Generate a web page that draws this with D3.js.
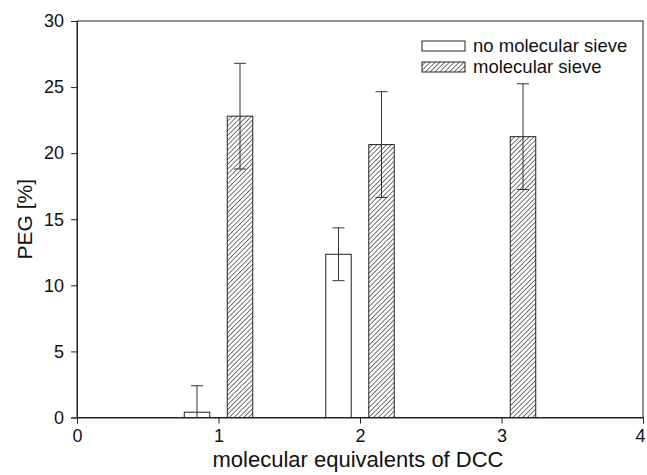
<!DOCTYPE html>
<html>
<head>
<meta charset="utf-8">
<script src="https://cdn.jsdelivr.net/npm/d3@7"></script>
<style>
  body { margin: 0; background: white; }
  text { font-family: "Liberation Sans", Arial, sans-serif; fill: #111; }
</style>
</head>
<body>
<svg id="chart" width="647" height="475"></svg>
<script>
// data
const equivalents = [1, 2, 3];
const noSieve = [0.4, 12.35, null];
const noSieveErr = [2.0, 2.0, null];
const sieve = [22.8, 20.65, 21.25];
const sieveErr = [4.0, 4.0, 4.0];
const xTicks = [0, 1, 2, 3, 4];
const yTicks = [0, 5, 10, 15, 20, 25, 30];
const seriesNames = ['no molecular sieve', 'molecular sieve'];

const margin = { top: 21, right: 4, bottom: 57.5, left: 77 };
const width = 647 - margin.left - margin.right;
const height = 475 - margin.top - margin.bottom;

const svg = d3.select('#chart');

// diagonal hatch for the molecular sieve bars
const defs = svg.append('defs');
const pat = defs.append('pattern')
  .attr('id', 'hatch')
  .attr('patternUnits', 'userSpaceOnUse')
  .attr('width', 3.4)
  .attr('height', 3.4)
  .attr('patternTransform', 'rotate(45)');
pat.append('rect').attr('width', 3.4).attr('height', 3.4).attr('fill', 'white');
pat.append('line')
  .attr('x1', 0).attr('y1', 0).attr('x2', 0).attr('y2', 3.4)
  .attr('stroke', '#1a1a1a').attr('stroke-width', 1.2);

const g = svg.append('g')
  .attr('transform', `translate(${margin.left},${margin.top})`);

const x = d3.scaleLinear().domain([0, 4]).range([0, width]);
const y = d3.scaleLinear().domain([0, 30]).range([height, 0]);

const barW = x(0.18) - x(0);
const offset = 0.152;

// frame
g.append('rect')
  .attr('width', width).attr('height', height)
  .attr('fill', 'none').attr('stroke', '#222').attr('stroke-width', 1);

// axes
const xAxis = g.append('g')
  .attr('transform', `translate(0,${height})`)
  .call(d3.axisBottom(x).tickValues(xTicks).tickFormat(d3.format('d')).tickSizeOuter(0).tickSize(6).tickPadding(6));
const yAxis = g.append('g')
  .call(d3.axisLeft(y).tickValues(yTicks).tickSizeOuter(0).tickSize(6).tickPadding(7));
[xAxis, yAxis].forEach(a => {
  a.attr('font-size', null).attr('font-family', null);
  a.select('.domain').attr('stroke', '#222');
  a.selectAll('.tick line').attr('stroke', '#222');
  a.selectAll('text').style('font-size', '18px').attr('fill', '#111');
});
// keep the last x label inside the page
xAxis.selectAll('.tick text').filter(d => d === 4).attr('dx', '-3');

function drawSeries(vals, errs, dx, fill) {
  const data = equivalents.map((e, i) => ({ e, v: vals[i], err: errs[i] }))
    .filter(d => d.v != null);
  g.selectAll(null).data(data).enter().append('rect')
    .attr('x', d => x(d.e + dx) - barW / 2)
    .attr('y', d => y(d.v))
    .attr('width', barW)
    .attr('height', d => y(0) - y(d.v))
    .attr('fill', fill)
    .attr('stroke', '#222').attr('stroke-width', 1);
  const eb = g.selectAll(null).data(data).enter().append('g')
    .attr('stroke', '#333').attr('stroke-width', 1);
  eb.append('line')
    .attr('x1', d => x(d.e + dx)).attr('x2', d => x(d.e + dx))
    .attr('y1', d => y(Math.max(0, d.v - d.err))).attr('y2', d => y(d.v + d.err));
  [1, -1].forEach(s => {
    eb.append('line')
      .attr('x1', d => x(d.e + dx) - 6).attr('x2', d => x(d.e + dx) + 6)
      .attr('y1', d => y(d.v + s * d.err))
      .attr('y2', d => y(d.v + s * d.err))
      .attr('display', d => (d.v - d.err < 0 && s < 0) ? 'none' : null);
  });
}

drawSeries(noSieve, noSieveErr, -offset, 'white');
drawSeries(sieve, sieveErr, offset, 'url(#hatch)');

// legend
const legend = g.append('g').attr('transform', 'translate(345,20)');
seriesNames.forEach((name, i) => {
  legend.append('rect')
    .attr('x', 0).attr('y', i * 21)
    .attr('width', 43).attr('height', 10)
    .attr('fill', i === 0 ? 'white' : 'url(#hatch)')
    .attr('stroke', '#222').attr('stroke-width', 1);
  legend.append('text')
    .attr('x', 51).attr('y', i * 21 + 11)
    .style('font-size', '18.5px')
    .text(name);
});

// axis titles
svg.append('text')
  .attr('x', margin.left + width / 2 - 2)
  .attr('y', 467)
  .attr('text-anchor', 'middle')
  .style('font-size', '22px')
  .text('molecular equivalents of DCC');

svg.append('text')
  .attr('transform', `translate(32,${margin.top + height / 2}) rotate(-90)`)
  .attr('text-anchor', 'middle')
  .style('font-size', '21px')
  .text('PEG [%]');
</script>
</body>
</html>
